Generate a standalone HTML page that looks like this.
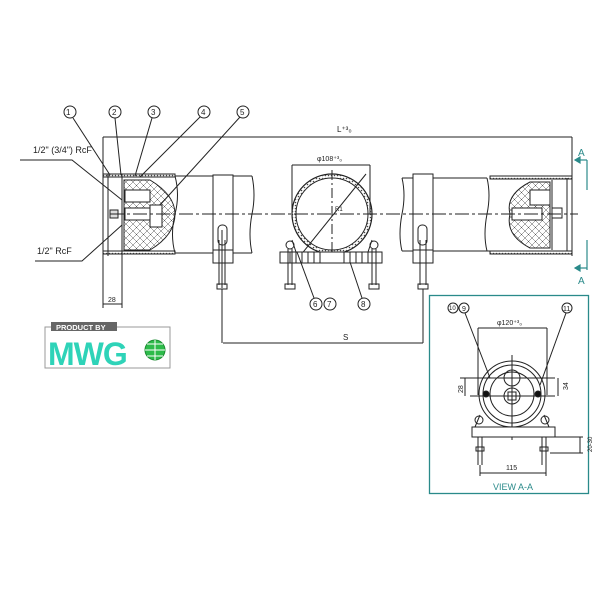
<!DOCTYPE html>
<html><head><meta charset="utf-8"><style>
html,body{margin:0;padding:0;background:#fff;}
svg{display:block;}
text{font-family:"Liberation Sans",sans-serif;}
</style></head><body>
<svg width="600" height="600" viewBox="0 0 600 600" xmlns="http://www.w3.org/2000/svg">
<defs>
<pattern id="hatch" width="7" height="7" patternUnits="userSpaceOnUse">
<path d="M0 0L7 7M7 0L0 7" stroke="#555" stroke-width="0.5"/>
</pattern>
<pattern id="dots" width="3" height="3" patternUnits="userSpaceOnUse">
<circle cx="1.5" cy="1.5" r="0.8" fill="#444"/>
</pattern>
</defs>
<g stroke="#222" fill="none" stroke-width="1">
<line x1="103" y1="137" x2="572" y2="137"/>
<line x1="103" y1="137" x2="103" y2="308"/>
<line x1="572" y1="137" x2="572" y2="178"/>
<line x1="122" y1="255" x2="122" y2="308"/>
<line x1="103" y1="304" x2="122" y2="304"/>

<rect x="103" y="174" width="72" height="3" fill="url(#dots)"/>
<rect x="103" y="251" width="72" height="3" fill="url(#dots)"/>
<line x1="103" y1="174" x2="103" y2="256"/>
<line x1="108" y1="174" x2="108" y2="256"/>
<line x1="122" y1="174" x2="122" y2="256"/>
<path d="M124 180 L150 180 Q175 195 175 214 Q175 235 150 250 L124 250 Z" fill="url(#hatch)"/>
<rect x="125" y="190" width="25" height="12" fill="#fff"/>
<rect x="125" y="208" width="30" height="12" fill="#fff"/>
<rect x="150" y="205" width="12" height="22" fill="#fff"/>
<rect x="110" y="210" width="8" height="8" fill="#ddd"/>
<path d="M175 176 Q180 195 175 214 Q170 235 175 253"/>
<line x1="175" y1="176" x2="252" y2="176"/>
<line x1="175" y1="253" x2="252" y2="253"/>
<path d="M252 176 Q256 195 252 214 Q248 235 252 253"/>
<rect x="213" y="175" width="20" height="88" fill="#fff"/>
<line x1="213" y1="250" x2="233" y2="250"/>
<rect x="218" y="225" width="9" height="20" rx="4"/>
<line x1="222" y1="230" x2="222" y2="288"/>
<line x1="219" y1="240" x2="219" y2="285"/>
<line x1="225" y1="240" x2="225" y2="285"/>
<rect x="217" y="284" width="10" height="5"/>
<line x1="222" y1="289" x2="222" y2="343"/>

<line x1="292" y1="165" x2="370" y2="165"/>
<line x1="292" y1="165" x2="292" y2="214"/>
<line x1="370" y1="165" x2="370" y2="214"/>
<circle cx="332" cy="214" r="40" stroke-width="1.2"/>
<circle cx="332" cy="214" r="36" />
<circle cx="332" cy="214" r="38" stroke="url(#dots)" stroke-width="3"/>
<line x1="332" y1="170" x2="332" y2="262" stroke-dasharray="10,3,2,3"/>
<line x1="300" y1="256" x2="366" y2="174"/>
<path d="M292 240 L296 252 M372 240 L368 252"/>
<rect x="280" y="252" width="102" height="11" fill="#fff"/>
<path d="M290 252 v11 M296 252 v11 M302 252 v11 M308 252 v11 M314 252 v11 M320 252 v11 M344 252 v11 M350 252 v11 M356 252 v11 M362 252 v11 M368 252 v11"/>
<circle cx="290" cy="245" r="4"/>
<circle cx="374" cy="245" r="4"/>
<line x1="288" y1="249" x2="288" y2="285"/><line x1="292" y1="249" x2="292" y2="285"/>
<line x1="372" y1="249" x2="372" y2="285"/><line x1="376" y1="249" x2="376" y2="285"/>
<rect x="285" y="284" width="10" height="5"/>
<rect x="369" y="284" width="10" height="5"/>
<rect x="413" y="174" width="20" height="89" fill="#fff"/>
<line x1="413" y1="250" x2="433" y2="250"/>
<rect x="418" y="225" width="9" height="20" rx="4"/>
<line x1="420" y1="240" x2="420" y2="285"/><line x1="426" y1="240" x2="426" y2="285"/>
<rect x="418" y="284" width="10" height="5"/>
<line x1="423" y1="289" x2="423" y2="343"/>
<line x1="223" y1="343" x2="423" y2="343"/>
<path d="M402 178 Q406 195 402 214 Q398 235 402 251"/>
<line x1="402" y1="178" x2="413" y2="178"/><line x1="433" y1="178" x2="487" y2="178"/>
<line x1="402" y1="251" x2="413" y2="251"/><line x1="433" y1="251" x2="490" y2="251"/>
<path d="M487 178 Q491 195 487 214 Q483 235 487 251"/>
<rect x="490" y="176" width="82" height="3" fill="url(#dots)"/>
<rect x="490" y="251" width="82" height="3" fill="url(#dots)"/>
<line x1="572" y1="174" x2="572" y2="256"/>
<line x1="567" y1="178" x2="567" y2="251"/>
<line x1="552" y1="180" x2="552" y2="250"/>
<path d="M550 182 L530 182 Q505 195 510 214 Q505 235 530 248 L550 248 Z" fill="url(#hatch)"/>
<rect x="530" y="190" width="20" height="15" fill="#fff"/>
<rect x="512" y="208" width="30" height="12" fill="#fff"/>
<rect x="552" y="208" width="10" height="10" fill="#fff"/>
<line x1="110" y1="214" x2="578" y2="214" stroke-dasharray="14,3,3,3"/>

<circle cx="70" cy="112" r="6"/><circle cx="115" cy="112" r="6"/><circle cx="154" cy="112" r="6"/><circle cx="204" cy="112" r="6"/><circle cx="243" cy="112" r="6"/>
<line x1="73" y1="118" x2="110" y2="175"/>
<line x1="115" y1="118" x2="121" y2="175"/>
<line x1="152" y1="118" x2="135" y2="176"/>
<line x1="200" y1="117" x2="140" y2="177"/>
<line x1="240" y1="117" x2="160" y2="205"/>
<polyline points="20,160 72,160 122,200"/>
<polyline points="35,261 82,261 122,225"/>
<circle cx="316" cy="304" r="6"/><circle cx="330" cy="304" r="6"/><circle cx="364" cy="304" r="6"/>
<line x1="314" y1="298" x2="297" y2="252"/>
<line x1="362" y1="298" x2="350" y2="262"/>
</g>

<g stroke="#2a8a8a" fill="none" stroke-width="1.2">
<line x1="587" y1="160" x2="587" y2="190"/>
<line x1="587" y1="240" x2="587" y2="270"/>
<line x1="587" y1="160" x2="575" y2="160"/>
<line x1="587" y1="268" x2="575" y2="268"/>
<path d="M575 160 l5 -3 v6 z M575 268 l5 -3 v6z" fill="#2a8a8a"/>
<rect x="429.5" y="295.5" width="159" height="198" stroke-width="1.3"/>
</g>
<g fill="#2a8a8a" font-size="10">
<text x="578" y="156">A</text>
<text x="578" y="284">A</text>
<text x="493" y="490" font-size="9">VIEW A-A</text>
</g>

<g stroke="#222" fill="none" stroke-width="1">
<line x1="478" y1="328" x2="547" y2="328"/>
<line x1="478" y1="328" x2="478" y2="395"/><line x1="547" y1="328" x2="547" y2="395"/>
<circle cx="512" cy="394" r="33"/>
<circle cx="512" cy="394" r="29"/>
<circle cx="512" cy="394" r="22"/>
<circle cx="512" cy="378" r="8"/>
<circle cx="512" cy="396" r="8"/>
<rect x="508" y="392" width="8" height="8"/>
<line x1="512" y1="355" x2="512" y2="440"/>
<line x1="460" y1="378" x2="555" y2="378"/>
<line x1="470" y1="396" x2="555" y2="396"/>
<line x1="465" y1="378" x2="465" y2="396"/>
<line x1="558" y1="378" x2="558" y2="396"/>
<circle cx="486" cy="394" r="3" fill="#111"/>
<circle cx="538" cy="394" r="3" fill="#111"/>
<path d="M480 415 L475 427 M544 415 L549 427"/>
<circle cx="479" cy="420" r="4"/><circle cx="545" cy="420" r="4"/>
<rect x="472" y="427" width="83" height="10" fill="#fff"/>
<line x1="478" y1="437" x2="478" y2="465"/><line x1="482" y1="437" x2="482" y2="465"/>
<line x1="542" y1="437" x2="542" y2="465"/><line x1="546" y1="437" x2="546" y2="465"/>
<rect x="476" y="447" width="8" height="4"/><rect x="540" y="447" width="8" height="4"/>
<line x1="480" y1="473" x2="546" y2="473"/>
<line x1="480" y1="465" x2="480" y2="476"/><line x1="546" y1="465" x2="546" y2="476"/>
<line x1="555" y1="437" x2="583" y2="437"/><line x1="550" y1="453" x2="583" y2="453"/>
<line x1="580" y1="437" x2="580" y2="453"/>
<circle cx="453" cy="308" r="5"/><circle cx="464" cy="308" r="5"/><circle cx="567" cy="308" r="5"/>
<line x1="465" y1="313" x2="490" y2="378"/>
<line x1="566" y1="313" x2="540" y2="385"/>
</g>

<g fill="#222" font-size="8">
<text x="66" y="115" font-size="8">1</text>
<text x="112" y="115">2</text>
<text x="151" y="115">3</text>
<text x="201" y="115">4</text>
<text x="240" y="115">5</text>
<text x="313" y="307">6</text>
<text x="327" y="307">7</text>
<text x="361" y="307">8</text>
<text x="449" y="310" font-size="6">10</text>
<text x="462" y="311" font-size="7">9</text>
<text x="563" y="311" font-size="7">11</text>
<text x="33" y="153" font-size="9">1/2" (3/4") RcF</text>
<text x="37" y="254" font-size="9">1/2" RcF</text>
<text x="108" y="302" font-size="7">28</text>
<text x="337" y="132" font-size="8">L⁺³₀</text>
<text x="317" y="161" font-size="7">φ108⁺³₀</text>
<text x="335" y="211" font-size="6">R1</text>
<text x="343" y="340" font-size="8">S</text>
<text x="497" y="325" font-size="7">φ120⁺³₀</text>
<text x="506" y="470" font-size="7">115</text>
<text x="454" y="390" font-size="7" transform="rotate(-90 460 387)">28</text>
<text x="562" y="390" font-size="7" transform="rotate(-90 565 387)">34</text>
<text x="578" y="452" font-size="6" transform="rotate(-90 585 445)">20-30</text>
</g>

<rect x="45" y="327" width="125" height="41" fill="#fff" stroke="#999" stroke-width="1"/>
<rect x="51" y="322" width="66" height="9" fill="#666"/>
<text x="56" y="330" font-size="7.5" font-weight="bold" fill="#fff">PRODUCT BY</text>
<text x="48" y="365" font-size="32" font-weight="bold" fill="#2ed3b8" letter-spacing="-1">MWG</text>
<circle cx="155" cy="350" r="10" fill="#2dbb4a" stroke="#1a8a30"/>
<path d="M145 350 h20 M155 340 v20 M147 344 h16 M147 356 h16" stroke="#fff" stroke-width="1" fill="none"/>
</svg>
</body></html>
